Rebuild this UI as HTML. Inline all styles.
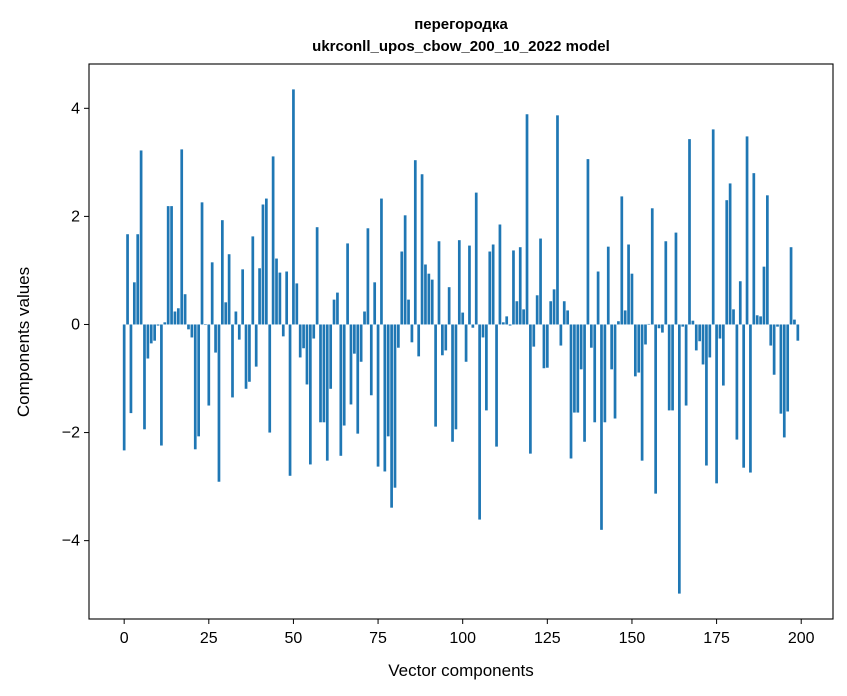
<!DOCTYPE html>
<html><head><meta charset="utf-8"><style>
body{margin:0;background:#fff;}
svg{display:block;font-family:"Liberation Sans",sans-serif;}
</style></head><body>
<svg id="chart" width="847" height="696" viewBox="0 0 847 696">
<rect x="0" y="0" width="847" height="696" fill="#fff"/>
<text x="461" y="29" text-anchor="middle" font-size="15" font-weight="bold">перегородка</text>
<text x="461" y="51" text-anchor="middle" font-size="15" font-weight="bold">ukrconll_upos_cbow_200_10_2022 model</text>
<g id="bars"></g>
<g id="xticks"></g>
<g id="yticks"></g>
<rect x="89" y="64" width="744" height="555" fill="none" stroke="#000" stroke-width="1.1"/>
<text x="461" y="676" text-anchor="middle" font-size="17">Vector components</text>
<text transform="translate(29,342) rotate(-90)" text-anchor="middle" font-size="17">Components values</text>
</svg>
<script>
const values = [
-2.33,1.67,-1.64,0.78,1.67,3.22,-1.94,-0.63,-0.35,-0.3,
-0.02,-2.24,0.04,2.19,2.19,0.24,0.3,3.24,0.56,-0.09,
-0.24,-2.31,-2.07,2.26,-0.01,-1.5,1.15,-0.52,-2.91,1.93,
0.41,1.3,-1.35,0.24,-0.28,1.02,-1.19,-1.06,1.63,-0.78,
1.04,2.22,2.33,-2.0,3.11,1.22,0.96,-0.22,0.98,-2.8,
4.35,0.76,-0.61,-0.44,-1.11,-2.59,-0.26,1.8,-1.81,-1.81,
-2.52,-1.19,0.46,0.59,-2.43,-1.87,1.5,-1.48,-0.54,-2.02,
-0.69,0.24,1.78,-1.31,0.78,-2.63,2.33,-2.72,-2.07,-3.39,
-3.02,-0.43,1.35,2.02,0.46,-0.33,3.04,-0.59,2.78,1.11,
0.94,0.83,-1.89,1.54,-0.57,-0.48,0.69,-2.17,-1.94,1.56,
0.22,-0.69,1.46,-0.06,2.44,-3.61,-0.24,-1.59,1.35,1.48,
-2.26,1.85,0.04,0.15,-0.02,1.37,0.43,1.43,0.28,3.89,
-2.39,-0.41,0.54,1.59,-0.81,-0.8,0.43,0.65,3.87,-0.39,
0.43,0.26,-2.48,-1.63,-1.63,-0.83,-2.17,3.06,-0.43,-1.81,
0.98,-3.8,-1.81,1.44,-0.83,-1.74,0.06,2.37,0.26,1.48,
0.94,-0.96,-0.89,-2.52,-0.37,0.01,2.15,-3.13,-0.07,-0.15,
1.54,-1.59,-1.59,1.7,-4.98,-0.04,-1.5,3.43,0.07,-0.48,
-0.31,-0.74,-2.61,-0.61,3.61,-2.94,-0.26,-1.13,2.3,2.61,
0.28,-2.13,0.8,-2.65,3.48,-2.74,2.8,0.17,0.15,1.07,
2.39,-0.39,-0.93,-0.04,-1.65,-2.09,-1.61,1.43,0.09,-0.3
];
const xTickLabels = ["0","25","50","75","100","125","150","175","200"];
const xTickValues = [0,25,50,75,100,125,150,175,200];
const yTickLabels = ["−4","−2","0","2","4"];
const yTickValues = [-4,-2,0,2,4];

const L=89,R=833,T=64,B=619;
const xMin=-10.39,xMax=209.39,yMin=-5.45,yMax=4.82;
function xs(v){return L+(v-xMin)/(xMax-xMin)*(R-L);}
function ys(v){return B-(v-yMin)/(yMax-yMin)*(B-T);}
const NS="http://www.w3.org/2000/svg";
const bars=document.getElementById('bars');
values.forEach((v,i)=>{
  const r=document.createElementNS(NS,'rect');
  const x0=xs(i-0.4),x1=xs(i+0.4);
  const y0=ys(Math.max(v,0)),y1=ys(Math.min(v,0));
  r.setAttribute('x',x0);r.setAttribute('width',x1-x0);
  r.setAttribute('y',y0);r.setAttribute('height',Math.max(y1-y0,0.3));
  r.setAttribute('fill','#1f77b4');
  
  
  bars.appendChild(r);
});
const xt=document.getElementById('xticks');
xTickValues.forEach((v,i)=>{
  const x=xs(v);
  const l=document.createElementNS(NS,'line');
  l.setAttribute('x1',x);l.setAttribute('x2',x);l.setAttribute('y1',B);l.setAttribute('y2',B+5);
  l.setAttribute('stroke','#000');
  
  
  xt.appendChild(l);
  const t=document.createElementNS(NS,'text');
  t.setAttribute('x',x);t.setAttribute('y',B+24);t.setAttribute('text-anchor','middle');t.setAttribute('font-size','16');
  t.textContent=xTickLabels[i];
  
  
  xt.appendChild(t);
});
const yt=document.getElementById('yticks');
yTickValues.forEach((v,i)=>{
  const y=ys(v);
  const l=document.createElementNS(NS,'line');
  l.setAttribute('x1',L-5);l.setAttribute('x2',L);l.setAttribute('y1',y);l.setAttribute('y2',y);
  l.setAttribute('stroke','#000');
  
  
  yt.appendChild(l);
  const t=document.createElementNS(NS,'text');
  t.setAttribute('x',L-9);t.setAttribute('y',y+5);t.setAttribute('text-anchor','end');t.setAttribute('font-size','16');
  t.textContent=yTickLabels[i];
  
  
  yt.appendChild(t);
});
</script>
</body></html>
